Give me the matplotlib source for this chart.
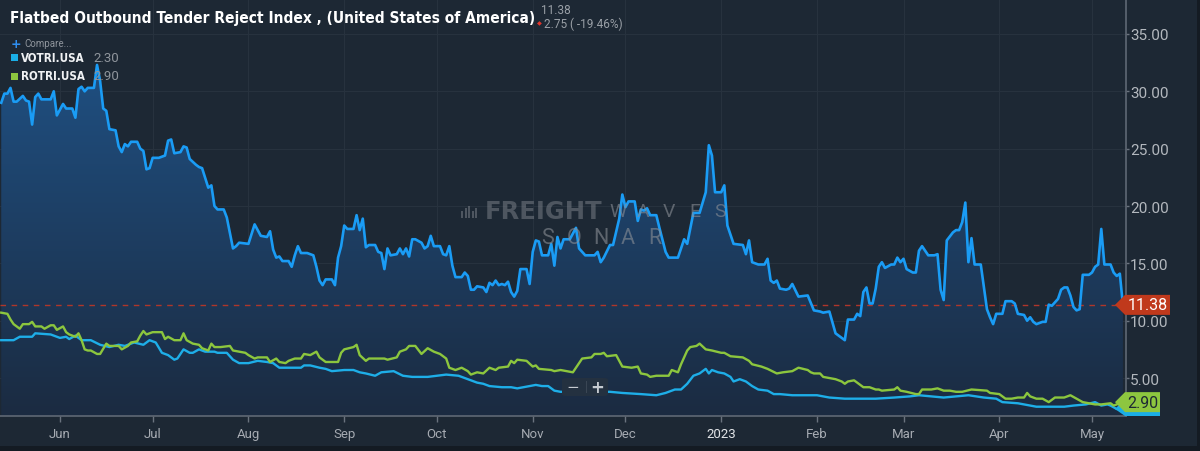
import datetime as dt
import numpy as np
import matplotlib
matplotlib.use("Agg")
import matplotlib.pyplot as plt
import matplotlib.dates as mdates
import matplotlib.transforms as mtransforms
import matplotlib.font_manager as fm
from matplotlib.patches import Polygon, PathPatch, Rectangle, FancyBboxPatch
from matplotlib.colors import LinearSegmentedColormap

# ---------------- data (day offsets from 2022-06-01) ----------------
main_days = [-19, -18, -17, -16, -15, -14, -12, -11, -10, -9, -8, -7, -6, -3, -2, -1, 1, 2, 4, 5,
             6, 7, 8, 9, 11, 12, 13, 14, 15, 16, 18, 19, 20, 21, 22, 23, 25, 26, 27, 28,
             29, 30, 32, 34, 35, 36, 37, 39, 40, 41, 42, 44, 45, 46, 48, 49, 50, 51, 53, 54,
             56, 57, 58, 61, 63, 65, 67, 68, 69, 70, 71, 72, 74, 75, 76, 77, 78, 80, 82, 83,
             84, 85, 86, 88, 89, 90, 91, 92, 93, 95, 96, 97, 98, 99, 100, 102, 103, 104, 105, 106,
             107, 109, 110, 111, 112, 113, 114, 115, 117, 118, 119, 120, 121, 123, 124, 125, 126, 127, 128, 130,
             131, 132, 133, 134, 135, 137, 138, 139, 140, 141, 142, 143, 144, 145, 146, 147, 148, 149, 151, 152,
             153, 154, 155, 156, 158, 159, 160, 161, 162, 163, 165, 167, 168, 170, 173, 174, 175, 176, 178, 179,
             181, 182, 183, 184, 186, 187, 188, 189, 190, 191, 193, 194, 196, 197, 200, 201, 202, 203, 205, 207,
             209, 210, 211, 212, 214, 215, 216, 218, 221, 222, 223, 224, 226, 228, 229, 230, 231, 232, 233, 235,
             236, 237, 239, 242, 244, 246, 247, 249, 251, 252, 254, 255, 257, 258, 259, 260, 261, 262, 263, 264,
             265, 266, 267, 269, 270, 271, 272, 273, 274, 276, 277, 278, 279, 281, 283, 284, 285, 286, 287, 289,
             290, 291, 292, 293, 294, 295, 296, 298, 300, 301, 302, 303, 305, 306, 308, 309, 310, 312, 313, 314,
             315, 316, 318, 319, 320, 321, 323, 324, 325, 326, 327, 328, 329, 330, 331, 333, 334, 335, 336, 337,
             338, 340, 341, 342, 343, 344]
main_vals = [29.0, 29.8, 29.8, 30.3, 29.1, 29.1, 29.6, 29.2, 29.1, 27.1, 29.5, 29.8, 29.3, 29.3, 30.0, 27.9, 28.9, 28.5, 28.5, 27.7,
             30.2, 30.4, 30.0, 30.3, 30.3, 32.3, 30.9, 28.5, 28.3, 26.7, 26.6, 25.2, 24.7, 25.4, 25.2, 25.6, 25.6, 25.0, 24.8, 23.2,
             23.3, 24.2, 24.2, 24.4, 25.7, 25.8, 24.6, 24.7, 25.2, 25.1, 24.1, 23.6, 23.4, 23.3, 21.6, 21.8, 20.0, 19.7, 19.7, 19.0,
             16.3, 16.5, 16.8, 16.7, 18.4, 17.4, 17.3, 17.8, 16.2, 15.5, 15.6, 15.2, 15.2, 14.7, 15.7, 16.5, 15.9, 15.9, 15.7, 14.7,
             13.5, 13.1, 13.6, 13.6, 13.1, 15.5, 16.5, 18.3, 18.0, 18.0, 19.2, 17.9, 18.9, 16.4, 16.6, 16.6, 16.0, 15.9, 14.5, 16.3,
             15.7, 15.8, 16.3, 15.8, 16.3, 15.6, 17.1, 17.1, 16.8, 16.3, 16.5, 17.4, 16.5, 16.5, 15.8, 15.7, 16.5, 14.8, 13.8, 13.8,
             14.2, 13.9, 12.7, 12.7, 13.0, 12.9, 12.5, 13.3, 13.1, 13.5, 13.1, 13.2, 13.1, 13.4, 12.5, 12.1, 12.6, 14.5, 14.5, 13.2,
             16.0, 17.0, 16.9, 15.7, 15.7, 16.7, 14.8, 17.3, 16.3, 17.1, 17.1, 18.1, 16.3, 15.7, 15.7, 16.0, 15.1, 15.5, 16.6, 16.6,
             18.9, 21.0, 19.9, 20.4, 20.4, 18.7, 19.7, 19.6, 19.8, 19.2, 19.2, 18.1, 16.0, 15.5, 15.5, 16.3, 17.1, 16.7, 19.4, 19.4,
             21.2, 25.3, 24.4, 21.2, 21.2, 21.8, 18.3, 16.7, 16.6, 15.8, 17.0, 15.1, 14.9, 14.9, 15.4, 13.5, 13.3, 13.5, 12.8, 12.7,
             12.8, 13.2, 12.1, 12.2, 10.9, 10.8, 10.7, 10.8, 8.9, 8.7, 8.3, 10.1, 10.1, 10.6, 10.4, 12.5, 12.9, 11.5, 11.5, 12.8,
             14.7, 15.1, 14.6, 14.9, 14.9, 15.5, 15.1, 15.4, 14.5, 14.2, 14.2, 16.1, 16.5, 15.7, 15.7, 15.8, 12.7, 11.8, 17.0, 17.7,
             17.9, 17.9, 18.6, 20.3, 15.1, 17.2, 14.9, 14.9, 11.0, 10.3, 9.7, 10.6, 10.6, 11.7, 11.7, 11.5, 10.6, 10.5, 10.0, 10.3,
             9.9, 9.7, 9.9, 9.9, 11.4, 11.3, 11.9, 12.7, 12.9, 12.9, 12.2, 11.2, 10.9, 11.0, 14.0, 14.0, 14.2, 14.7, 14.9, 18.0,
             14.9, 14.9, 14.2, 13.9, 14.1, 11.38]

votri_days = [-19, -15, -13, -9, -8, -3, 0, 2, 3, 5, 7, 10, 13, 16, 19, 21, 24, 27, 29, 31,
              33, 35, 37, 38, 40, 42, 43, 45, 47, 50, 51, 54, 56, 58, 61, 64, 67, 69, 70, 71,
              72, 78, 79, 81, 84, 86, 88, 92, 95, 97, 99, 102, 104, 108, 111, 114, 119, 122, 125, 129,
              132, 135, 137, 139, 143, 146, 148, 150, 152, 154, 156, 158, 160, 162, 170, 178, 182, 188, 193, 196,
              199, 201, 203, 205, 207, 209, 210, 211, 213, 215, 217, 218, 220, 222, 224, 226, 229, 231, 233, 237,
              241, 245, 249, 254, 259, 264, 270, 275, 278, 282, 286, 290, 294, 299, 303, 305, 310, 314, 316, 320,
              325, 328, 332, 335, 337, 339, 340, 342, 344]
votri_vals = [8.3, 8.3, 8.6, 8.6, 8.9, 8.8, 8.5, 8.6, 8.4, 8.7, 8.3, 8.3, 7.9, 7.7, 7.9, 7.8, 8.1, 7.9, 8.3, 8.1,
              7.2, 7.0, 6.6, 6.7, 7.5, 7.2, 7.2, 7.5, 7.3, 7.3, 7.2, 7.2, 6.6, 6.3, 6.3, 6.5, 6.4, 6.3, 6.1, 5.9,
              5.9, 5.9, 6.1, 6.1, 5.9, 5.8, 5.6, 5.7, 5.7, 5.5, 5.4, 5.2, 5.5, 5.6, 5.2, 5.1, 5.1, 5.2, 5.3, 5.2,
              4.9, 4.6, 4.5, 4.3, 4.2, 4.2, 4.1, 4.2, 4.3, 4.4, 4.3, 4.3, 3.9, 3.8, 3.8, 3.8, 3.7, 3.6, 3.5, 3.7,
              4.0, 4.0, 4.5, 5.2, 5.4, 5.8, 5.4, 5.7, 5.5, 5.4, 5.1, 4.7, 4.9, 4.7, 4.3, 4.0, 3.9, 3.6, 3.6, 3.5,
              3.5, 3.5, 3.3, 3.2, 3.2, 3.2, 3.3, 3.4, 3.5, 3.4, 3.3, 3.4, 3.5, 3.3, 3.2, 2.9, 2.8, 2.6, 2.5, 2.5,
              2.5, 2.6, 2.7, 2.9, 2.6, 2.7, 2.6, 2.3, 2.3]

rotri_days = [-19, -17, -16, -15, -13, -12, -10, -9, -8, -6, -5, -3, -2, -1, 1, 2, 3, 5, 6, 7,
              8, 9, 10, 12, 13, 15, 16, 19, 20, 22, 23, 25, 26, 27, 28, 30, 33, 34, 35, 37,
              39, 40, 41, 43, 45, 46, 48, 49, 50, 52, 55, 56, 58, 60, 61, 63, 64, 67, 68, 70,
              71, 73, 74, 76, 78, 79, 81, 83, 84, 86, 88, 90, 91, 92, 95, 96, 97, 99, 100, 104,
              105, 106, 109, 110, 112, 113, 115, 117, 119, 121, 123, 125, 126, 128, 130, 132, 133, 135, 137, 139,
              141, 142, 145, 146, 147, 148, 151, 153, 154, 155, 159, 160, 162, 166, 167, 169, 172, 173, 175, 176,
              177, 180, 182, 185, 187, 188, 190, 191, 193, 197, 198, 200, 201, 203, 204, 206, 207, 209, 211, 214,
              215, 217, 221, 223, 224, 227, 229, 232, 234, 237, 239, 242, 243, 244, 246, 247, 251, 253, 254, 255,
              257, 258, 260, 262, 264, 265, 266, 270, 271, 272, 274, 277, 278, 279, 282, 284, 286, 288, 290, 292,
              295, 300, 301, 304, 306, 308, 310, 312, 313, 314, 316, 318, 320, 322, 325, 327, 329, 331, 333, 335,
              337, 340, 341, 344]
rotri_vals = [10.7, 10.6, 10.1, 9.7, 9.3, 9.7, 9.7, 9.9, 9.5, 9.5, 9.3, 9.6, 9.6, 9.2, 9.5, 9.0, 8.8, 8.6, 8.9, 8.3,
              7.5, 7.4, 7.4, 7.1, 7.1, 8.0, 7.8, 7.8, 7.5, 7.8, 8.1, 8.2, 8.7, 9.1, 8.8, 9.0, 9.0, 8.4, 8.6, 8.3,
              8.3, 8.9, 8.3, 8.0, 7.9, 7.6, 7.4, 8.0, 7.7, 7.7, 7.8, 7.4, 7.3, 7.2, 7.0, 6.7, 6.8, 6.8, 6.4, 6.7,
              6.4, 6.3, 6.5, 6.7, 6.7, 7.1, 7.0, 7.3, 6.8, 6.4, 6.4, 6.4, 7.2, 7.5, 7.7, 7.9, 7.0, 6.5, 6.7, 6.7,
              6.7, 6.6, 6.8, 7.3, 7.5, 7.8, 7.8, 7.1, 7.6, 7.3, 7.1, 6.7, 5.9, 5.7, 5.9, 5.6, 5.3, 5.5, 5.4, 5.9,
              5.7, 5.9, 6.0, 6.5, 6.3, 6.6, 6.5, 6.0, 6.1, 5.8, 5.7, 5.6, 5.7, 5.5, 5.9, 6.7, 6.8, 7.1, 7.1, 7.2,
              6.9, 7.0, 6.0, 5.9, 6.0, 5.4, 5.3, 5.1, 5.2, 5.2, 5.7, 5.5, 6.2, 7.4, 7.7, 7.8, 8.0, 7.5, 7.4, 7.2,
              7.2, 6.9, 6.8, 6.5, 6.2, 6.0, 5.8, 5.4, 5.5, 5.6, 5.9, 5.7, 5.5, 5.4, 5.4, 5.1, 4.9, 4.7, 4.5, 4.7,
              4.8, 4.6, 4.2, 4.2, 4.0, 4.0, 3.9, 4.0, 4.2, 3.9, 3.8, 3.6, 3.6, 4.0, 4.0, 4.1, 3.9, 3.9, 3.8, 3.8,
              4.0, 3.9, 3.7, 3.6, 3.2, 3.2, 3.3, 3.3, 3.7, 3.4, 3.2, 3.2, 2.9, 3.3, 3.3, 3.5, 3.2, 2.9, 2.8, 2.7,
              2.7, 2.8, 2.6, 2.9]

month_labels = ["Jun", "Jul", "Aug", "Sep", "Oct", "Nov", "Dec", "2023", "Feb", "Mar", "Apr", "May"]
month_starts = [dt.datetime(2022, 6, 1), dt.datetime(2022, 7, 1), dt.datetime(2022, 8, 1), dt.datetime(2022, 9, 1),
                dt.datetime(2022, 10, 1), dt.datetime(2022, 11, 1), dt.datetime(2022, 12, 1), dt.datetime(2023, 1, 1),
                dt.datetime(2023, 2, 1), dt.datetime(2023, 3, 1), dt.datetime(2023, 4, 1), dt.datetime(2023, 5, 1)]
y_ticks = [5, 10, 15, 20, 25, 30, 35]

title = "Flatbed Outbound Tender Reject Index , (United States of America)"
last_main = 11.38
change_text = "2.75 ( -19.46%)"
votri_last, rotri_last = 2.30, 2.90

# ---------------- style ----------------
BG = "#1d2834"
W, H = 1200, 452
names = {f.name for f in fm.fontManager.ttflist}
COND = "Liberation Sans Narrow" if "Liberation Sans Narrow" in names else "DejaVu Sans"
COND_STRETCH = "normal" if COND == "Liberation Sans Narrow" else "condensed"
UI = "Roboto" if "Roboto" in names else "DejaVu Sans"

fig = plt.figure(figsize=(W / 100, H / 100), dpi=100, facecolor=BG)
ax = fig.add_axes([0, 35 / H, 1126 / W, 417 / H])
ax.set_facecolor(BG)

base = mdates.date2num(dt.datetime(2022, 6, 1))
xm = base + np.array(main_days, dtype=float)
xv = base + np.array(votri_days, dtype=float)
xr = base + np.array(rotri_days, dtype=float)
vm = np.array(main_vals)

xlim = (base - 19.4, base + 345.0)
ylim = (1.69, 38.05)

# gradient fill under main series
poly = ax.fill_between(xm, vm, ylim[0], facecolor="none", edgecolor="none")
clip = PathPatch(poly.get_paths()[0], transform=ax.transData, facecolor="none", edgecolor="none")
ax.add_patch(clip)
grad = np.linspace(0, 1, 256).reshape(-1, 1)
cmap = LinearSegmentedColormap.from_list("fillg", ["#1b2b41", "#20568d"])
im = ax.imshow(grad, extent=[xlim[0], xlim[1], ylim[0], ylim[1]], origin="lower",
               aspect="auto", cmap=cmap, zorder=1, interpolation="bilinear")
im.set_clip_path(clip)

ax.plot(xv, votri_vals, color="#1eaee8", lw=1.7, zorder=4, solid_joinstyle="round")
ax.plot(xr, rotri_vals, color="#8cc63e", lw=1.7, zorder=4, solid_joinstyle="round")
ax.plot(xm, vm, color="#1a9cf5", lw=1.9, zorder=5, solid_joinstyle="round")
ax.axhline(last_main, color="#b0362a", lw=1.0, ls=(0, (4, 4)), zorder=3)

ax.set_xlim(*xlim)
ax.set_ylim(*ylim)

# axes, ticks, grid
for s in ["left", "top"]:
    ax.spines[s].set_visible(False)
for s in ["right", "bottom"]:
    ax.spines[s].set_color("#5f6874")
    ax.spines[s].set_linewidth(1.2)
ax.yaxis.tick_right()
ax.set_yticks(y_ticks)
ax.set_yticklabels([f"{t:.2f}" for t in y_ticks])
xt = [mdates.date2num(d) for d in month_starts]
ax.set_xticks(xt)
ax.set_xticklabels(month_labels)
ax.tick_params(axis="y", colors="#6a737e", labelcolor="#b3b8be", labelsize=11, length=2, width=1, pad=1)
ax.tick_params(axis="x", colors="#6a737e", labelcolor="#a6abb2", labelsize=9.5, length=4, width=1, pad=4)
for lab in ax.get_yticklabels() + ax.get_xticklabels():
    lab.set_fontfamily(UI)
for lab in ax.get_xticklabels():
    if lab.get_text() == "2023":
        lab.set_color("#e2e5e8")
ax.grid(True, color="#27323e", lw=0.8, zorder=0)
ax.set_axisbelow(True)

# watermark
wm = dict(color="#8a8f96", alpha=0.45, zorder=2, va="center", transform=fig.transFigure)
wm_thin = dict(wm, alpha=0.6)
t_fr = fig.text(485 / W, 1 - 212 / H, "FREIGHT", fontsize=13.5, weight="bold", family="DejaVu Sans", ha="left", **wm)
for i, ch in enumerate("WAVES"):
    fig.text((618 + i * 25.5) / W, 1 - 212 / H, ch, fontsize=14, weight="normal", family=UI, ha="center", **wm_thin)
for i, ch in enumerate("SONAR"):
    fig.text((547 + i * 27) / W, 1 - 238.5 / H, ch, fontsize=15.5, weight="normal", family=UI, ha="center", **wm_thin)
# small logo bars left of the wordmark
for i in range(5):
    fig.patches.append(Rectangle(((461 + i * 3.6) / W, 1 - 218.5 / H), 2 / W, (7 + (i % 3) * 2.5) / H,
                                 transform=fig.transFigure, facecolor="#8a8f96", alpha=0.45,
                                 edgecolor="none", figure=fig))

# tags at right
blend = mtransforms.blended_transform_factory(fig.transFigure, ax.transData)
dy = (ylim[1] - ylim[0]) / 417.0


def tag(v, color, x_right, text=None, tcolor="white", z=7, clamp=False, half=10):
    lo = v - half * dy
    if clamp:
        lo = max(lo, ylim[0])
    verts = [(1115 / W, v), (1125 / W, v + half * dy), (x_right / W, v + half * dy),
             (x_right / W, lo), (1125 / W, lo)]
    ax.add_patch(Polygon(verts, closed=True, transform=blend, facecolor=color,
                         edgecolor="none", clip_on=False, zorder=z))
    if text:
        ax.text((1125 + x_right) / 2 / W, v, text, transform=blend, ha="center", va="center",
                color=tcolor, fontsize=11.5, family=UI, zorder=z + 1, clip_on=False)


tag(last_main, "#c0391c", 1170, f"{last_main:.2f}")
tag(votri_last, "#1aaee6", 1160, None, z=6, clamp=True)
tag(rotri_last, "#8dc63f", 1160, f"{rotri_last:.2f}", tcolor="#1d2834", z=7)

# title and header info
t_title = fig.text(10 / W, 1 - 18 / H, title, fontsize=13, weight="bold", color="white",
                   family=COND, fontstretch=COND_STRETCH, va="center", ha="left")
fig.text(541 / W, 1 - 11 / H, f"{last_main:.2f}", fontsize=8.5, color="#9aa0a7", family=UI, va="center")
fig.text(539 / W, 1 - 24 / H, "\u25c6", fontsize=4.5, color="#e2352b", family="DejaVu Sans", va="center", ha="center")
fig.text(544 / W, 1 - 24 / H, change_text, fontsize=8.5, color="#9aa0a7", family=UI, va="center")

# legend block
fig.text(16 / W, 1 - 44 / H, "+", fontsize=9, color="#2f8ff0", family="DejaVu Sans", va="center", ha="center", weight="bold")
fig.text(24 / W, 1 - 44 / H, "Compare...", fontsize=7, color="#8f959c", family=UI, va="center")
for yy, col, name, val in [(58, "#1aaee6", "VOTRI.USA", votri_last), (77, "#8dc63f", "ROTRI.USA", rotri_last)]:
    fig.patches.append(Rectangle((11 / W, 1 - (yy + 3.5) / H), 6.5 / W, 7 / H, transform=fig.transFigure,
                                 facecolor=col, edgecolor="none", figure=fig))
    fig.text(21 / W, 1 - yy / H, name, fontsize=8.3, weight="bold", color="#f0f2f4",
             family=COND, fontstretch=COND_STRETCH, va="center")
    fig.text(93 / W, 1 - yy / H, f"{val:.2f}", fontsize=9.5, color="#8f959c", family=UI, va="center", zorder=1)

# zoom control
fig.patches.append(FancyBboxPatch((562 / W, 1 - 397 / H), 46 / W, 18 / H, boxstyle="round,pad=0,rounding_size=0.004",
                                  transform=fig.transFigure, facecolor="#243140", edgecolor="none", figure=fig, zorder=8))
fig.text(573 / W, 1 - 388 / H, "\u2212", fontsize=11, color="#c5cad0", family="DejaVu Sans", ha="center", va="center", zorder=9)
fig.text(597 / W, 1 - 388 / H, "+", fontsize=12, color="#c5cad0", family="DejaVu Sans", ha="center", va="center", zorder=9, weight="bold")
fig.patches.append(Rectangle((585.5 / W, 1 - 394 / H), 1 / W, 12 / H, transform=fig.transFigure,
                             facecolor="#3a4654", edgecolor="none", figure=fig, zorder=9))

# outer frame strips
fig.patches.append(Rectangle((0, 0), 1, 5 / H, transform=fig.transFigure, facecolor="#141b23", edgecolor="none", figure=fig))
fig.patches.append(Rectangle((1197 / W, 0), 3 / W, 1, transform=fig.transFigure, facecolor="#141b23", edgecolor="none", figure=fig))

# fit widths of title and watermark word
renderer = fig.canvas.get_renderer()


def fit(t, width_px):
    bb = t.get_window_extent(renderer)
    t.set_fontsize(t.get_fontsize() * width_px / bb.width)


fit(t_title, 522)
fit(t_fr, 118)

fig.savefig("out.png", dpi=100, facecolor=BG)
